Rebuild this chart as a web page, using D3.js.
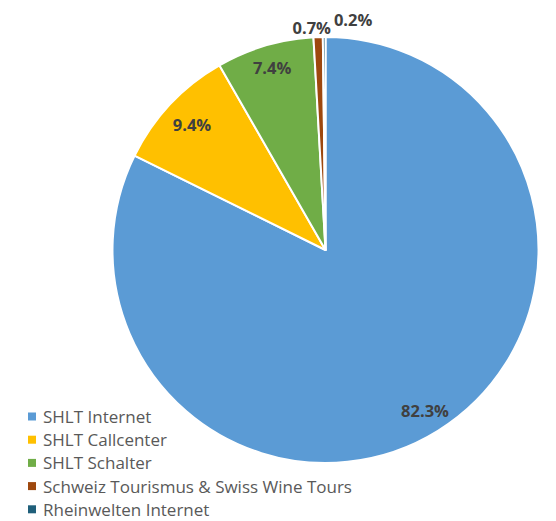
<!DOCTYPE html>
<html>
<head>
<meta charset="utf-8">
<script src="https://cdn.jsdelivr.net/npm/d3@7"></script>
<style>
  html, body { margin: 0; padding: 0; background: #fff; }
  svg { display: block; }
</style>
</head>
<body>
<svg id="chart" width="556" height="521"></svg>
<script>
const categories = ["SHLT Internet", "SHLT Callcenter", "SHLT Schalter", "Schweiz Tourismus & Swiss Wine Tours", "Rheinwelten Internet"];
const values = [82.3, 9.4, 7.4, 0.7, 0.2];
const valueLabels = ["82.3%", "9.4%", "7.4%", "0.7%", "0.2%"];
const colors = ["#5b9bd5", "#ffc000", "#70ad47", "#9e480e", "#1f5f7a"];

// label placement (radius factor and angle shift in degrees), layout only
const labelRadius = [0.885, 0.86, 0.895, 1.047, 1.09];
const labelShift = [0, 0, 0.3, -1.55, 7.2];

const svg = d3.select("#chart");
const cx = 325.5, cy = 250, R = 213;

const pie = d3.pie().sort(null).value(d => d.v);
const data = categories.map((c, i) => ({ c, v: values[i], i }));
const arcs = pie(data);
const arc = d3.arc().innerRadius(0).outerRadius(R);

const g = svg.append("g").attr("transform", `translate(${cx},${cy})`);
g.selectAll("path").data(arcs).join("path")
  .attr("d", arc)
  .attr("fill", d => colors[d.data.i])
  .attr("stroke", "#fff")
  .attr("stroke-width", 2)
  .attr("stroke-linejoin", "round");

function labelPos(d) {
  const a = (d.startAngle + d.endAngle) / 2 + labelShift[d.data.i] * Math.PI / 180;
  const r = R * labelRadius[d.data.i];
  return [Math.sin(a) * r, -Math.cos(a) * r];
}

g.selectAll("text.lbl").data(arcs).join("text")
  .attr("class", "lbl")
  .attr("x", d => labelPos(d)[0])
  .attr("y", d => labelPos(d)[1])
  .attr("text-anchor", "middle")
  .attr("dominant-baseline", "central")
  .attr("font-family", "'Open Sans', sans-serif")
  .attr("font-weight", "bold")
  .attr("font-size", 16.5)
  .attr("fill", "#404040")
  .text(d => valueLabels[d.data.i]);

const legend = svg.append("g").attr("transform", "translate(28,416.5)");
const rows = legend.selectAll("g").data(categories).join("g")
  .attr("transform", (d, i) => `translate(0,${i * 23.2})`);
rows.append("rect")
  .attr("x", 0).attr("y", -4).attr("width", 8).attr("height", 8)
  .attr("fill", (d, i) => colors[i]);
rows.append("text")
  .attr("x", 15).attr("y", 0)
  .attr("dominant-baseline", "central")
  .attr("font-family", "'Open Sans', sans-serif")
  .attr("font-size", 17)
  .attr("fill", "#595959")
  .text(d => d);
</script>
</body>
</html>
